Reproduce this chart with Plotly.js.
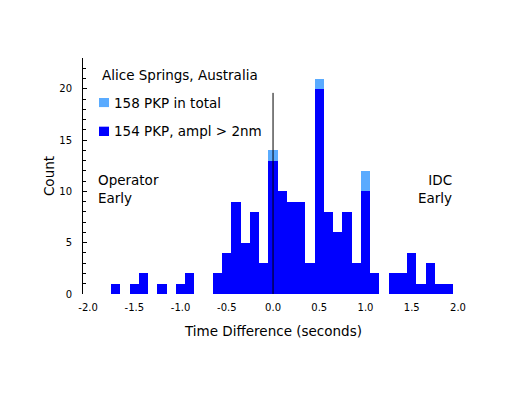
<!DOCTYPE html>
<html>
<head>
<meta charset="utf-8">
<script src="https://cdn.plot.ly/plotly-3.0.1.min.js"></script>
<style>
  html, body { margin: 0; padding: 0; background: #ffffff; }
  #chart { width: 509px; height: 393px; }
</style>
</head>
<body>
<div id="chart"></div>
<script>
// Bin centres (seconds), bin width 0.1 s
const binCenters = [-1.7,-1.6,-1.5,-1.4,-1.3,-1.2,-1.1,-1.0,-0.9,-0.8,-0.7,-0.6,-0.5,-0.4,-0.3,-0.2,-0.1,
                    0.0,0.1,0.2,0.3,0.4,0.5,0.6,0.7,0.8,0.9,1.0,1.1,1.2,1.3,1.4,1.5,1.6,1.7,1.8,1.9];
// 158 PKP in total
const totalCounts = [1,0,1,2,0,1,0,1,2,0,0,2,4,9,5,8,3,
                     14,10,9,9,3,21,8,6,8,3,12,2,0,2,2,4,1,3,1,1];
// 154 PKP, ampl > 2nm
const amplCounts  = [1,0,1,2,0,1,0,1,2,0,0,2,4,9,5,8,3,
                     13,10,9,9,3,20,8,6,8,3,10,2,0,2,2,4,1,3,1,1];

const xTickVals = [-2.0,-1.5,-1.0,-0.5,0.0,0.5,1.0,1.5,2.0];
const xTickText = ["-2.0","-1.5","-1.0","-0.5","0.0","0.5","1.0","1.5","2.0"];
const yTickVals = [0,5,10,15,20];
const yTickText = ["0","5","10","15","20"];

const seriesNames = ["158 PKP in total", "154 PKP, ampl > 2nm"];
const stationLabel = "Alice Springs, Australia";
const zeroLineTop = 19.6;

const lightBlue = "#5aabff";
const darkBlue = "#0000ff";
const font = "DejaVu Sans, Liberation Sans, Arial, sans-serif";

const traces = [
  { type: "bar", x: binCenters, y: totalCounts, name: seriesNames[0],
    marker: { color: lightBlue, line: { width: 0 } }, hoverinfo: "x+y" },
  { type: "bar", x: binCenters, y: amplCounts, name: seriesNames[1],
    marker: { color: darkBlue, line: { width: 0 } }, hoverinfo: "x+y" }
];

const layout = {
  width: 509, height: 393,
  margin: { l: 83, r: 45, t: 58, b: 99 },
  paper_bgcolor: "#ffffff", plot_bgcolor: "#ffffff",
  barmode: "overlay", bargap: 0,
  showlegend: false,
  font: { family: font, color: "#000000", size: 13 },
  xaxis: {
    range: [-2.055, 2.065],
    showline: false, showgrid: false, zeroline: false,
    ticks: "", tickvals: xTickVals, ticktext: xTickText,
    tickfont: { size: 10, family: font },
    ticklabelstandoff: 6,
    title: { text: "Time Difference (seconds)", font: { size: 13.5, family: font }, standoff: 14 }
  },
  yaxis: {
    range: [0, 23],
    showline: true, linecolor: "#000000", linewidth: 1,
    showgrid: false, zeroline: false,
    ticks: "inside", ticklen: 4, tickcolor: "#000000", tickwidth: 1,
    tickvals: yTickVals, ticktext: yTickText,
    minor: { dtick: 1, ticks: "inside", ticklen: 3, tickcolor: "#000000", showgrid: false },
    tickfont: { size: 10, family: font },
    ticklabelstandoff: 8,
    title: { text: "Count", font: { size: 13.5, family: font }, standoff: 1 }
  },
  shapes: [
    { type: "line", xref: "x", yref: "y", x0: 0, x1: 0, y0: 0, y1: zeroLineTop,
      line: { color: "#000000", width: 1 } },
    { type: "rect", xref: "paper", yref: "paper", x0: 0.042, x1: 0.0682, y0: 0.792, y1: 0.8305,
      fillcolor: lightBlue, line: { width: 0 } },
    { type: "rect", xref: "paper", yref: "paper", x0: 0.042, x1: 0.0682, y0: 0.6695, y1: 0.709,
      fillcolor: darkBlue, line: { width: 0 } }
  ],
  annotations: [
    { xref: "paper", yref: "paper", x: 0.045, y: 0.928, xanchor: "left", yanchor: "middle",
      text: stationLabel, showarrow: false, font: { size: 13.5, family: font } },
    { xref: "paper", yref: "paper", x: 0.076, y: 0.8106, xanchor: "left", yanchor: "middle",
      text: seriesNames[0], showarrow: false, font: { size: 13.5, family: font } },
    { xref: "paper", yref: "paper", x: 0.076, y: 0.6907, xanchor: "left", yanchor: "middle",
      text: seriesNames[1].replace(">", "&gt;"), showarrow: false, font: { size: 13.5, family: font } },
    { xref: "paper", yref: "paper", x: 0.034, y: 0.445, xanchor: "left", yanchor: "middle",
      align: "left", text: "Operator<br>Early", showarrow: false, font: { size: 13.5, family: font } },
    { xref: "paper", yref: "paper", x: 0.975, y: 0.445, xanchor: "right", yanchor: "middle",
      align: "right", text: "IDC<br>Early", showarrow: false, font: { size: 13.5, family: font } }
  ]
};

Plotly.newPlot("chart", traces, layout, { displayModeBar: false, staticPlot: true });
</script>
</body>
</html>
